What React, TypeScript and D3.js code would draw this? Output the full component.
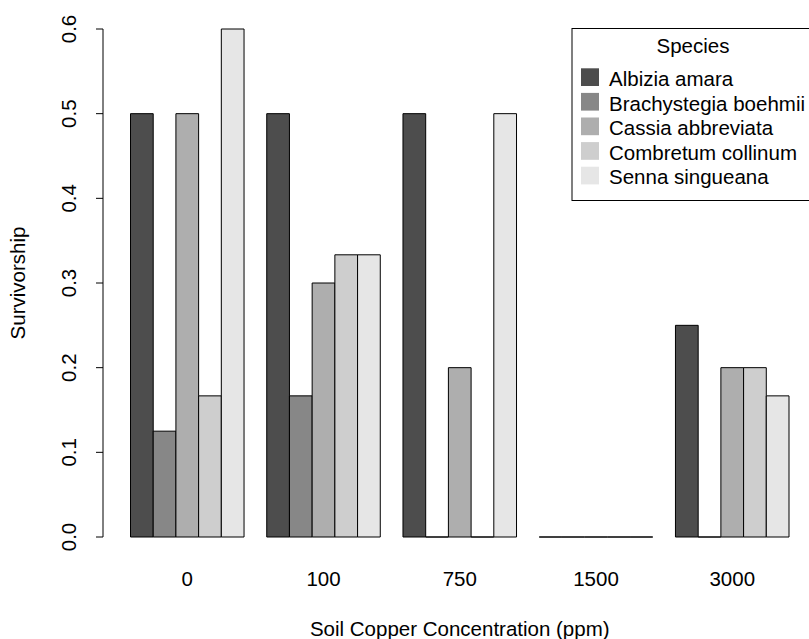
import React from "react";
import { scaleLinear } from "d3";

const groups = ["0", "100", "750", "1500", "3000"];
const species = [
	"Albizia amara",
	"Brachystegia boehmii",
	"Cassia abbreviata",
	"Combretum collinum",
	"Senna singueana"
];
const albizia = [0.5, 0.5, 0.5, 0, 0.25];
const brachystegia = [0.125, 0.1667, 0, 0, 0];
const cassia = [0.5, 0.3, 0.2, 0, 0.2];
const combretum = [0.1667, 0.3333, 0, 0, 0.2];
const senna = [0.6, 0.3333, 0.5, 0, 0.1667];
const yTicks = [0, 0.1, 0.2, 0.3, 0.4, 0.5, 0.6];

const series = [albizia, brachystegia, cassia, combretum, senna];
const fills = ["#4D4D4D", "#878787", "#AEAEAE", "#CECECE", "#E6E6E6"];

const W = 809;
const H = 639;
const font = "'Liberation Sans', Arial, sans-serif";
const fs = 20.5;
const rowH = 24.6;

const App: React.FC = () => {
	// R barplot beside=TRUE: bar units, each group = 1 space + 5 bars
	const x = scaleLinear().domain([1, 30]).range([130.5, 789]);
	const y = scaleLinear().domain([0, 0.6]).range([537, 29]);
	const axisX = 103;

	const bars: { key: string; d: string; fill: string }[] = [];
	groups.forEach((g, gi) => {
		series.forEach((vals, si) => {
			const u0 = gi * 6 + 1 + si;
			const x0 = x(u0);
			const x1 = x(u0 + 1);
			const y0 = y(0);
			const y1 = y(vals[gi]);
			bars.push({
				key: `${g}-${si}`,
				d: `M${x0},${y0}H${x1}V${y1}H${x0}Z`,
				fill: fills[si]
			});
		});
	});

	return (
		<svg width={W} height={H} style={{ position: "absolute", left: 0, top: 0, background: "#fff" }} fontFamily={font}>
			{bars.map((b) => (
				<path key={b.key} d={b.d} fill={b.fill} stroke="#000" strokeWidth={1} />
			))}

			{/* y axis */}
			<line x1={axisX} x2={axisX} y1={y(0)} y2={y(0.6)} stroke="#000" strokeWidth={1} />
			{yTicks.map((t) => (
				<g key={t}>
					<line x1={axisX - 7} x2={axisX} y1={y(t)} y2={y(t)} stroke="#000" strokeWidth={1} />
					<text
						transform={`translate(${76},${y(t)}) rotate(-90)`}
						textAnchor="middle"
						fontSize={fs}
					>
						{t.toFixed(1)}
					</text>
				</g>
			))}
			<text transform={`translate(25,${(y(0) + y(0.6)) / 2}) rotate(-90)`} textAnchor="middle" fontSize={fs}>
				Survivorship
			</text>

			{/* group labels */}
			{groups.map((g, gi) => (
				<text key={g} x={x(gi * 6 + 3.5)} y={586} textAnchor="middle" fontSize={fs}>
					{g}
				</text>
			))}
			<text x={x(15.5)} y={636} textAnchor="middle" fontSize={fs}>
				Soil Copper Concentration (ppm)
			</text>

			{/* legend */}
			<rect x={572} y={28.5} width={250} height={172} fill="#fff" stroke="#000" strokeWidth={1} />
			<text x={693} y={53} textAnchor="middle" fontSize={fs}>Species</text>
			{species.map((s, i) => (
				<g key={s}>
					<rect x={581} y={68.3 + i * rowH} width={18} height={17.7} fill={fills[i]} />
					<text x={609} y={86 + i * rowH} fontSize={fs}>{s}</text>
				</g>
			))}
		</svg>
	);
};

export default App;
